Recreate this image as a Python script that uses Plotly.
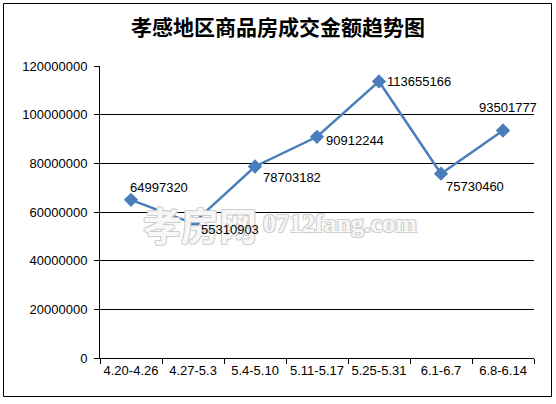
import plotly.graph_objects as go

categories = ["4.20-4.26", "4.27-5.3", "5.4-5.10", "5.11-5.17", "5.25-5.31", "6.1-6.7", "6.8-6.14"]
amounts = [64997320, 55310903, 78703182, 90912244, 113655166, 75730460, 93501777]
y_ticks = [0, 20000000, 40000000, 60000000, 80000000, 100000000, 120000000]

# label offsets (pixels) relative to each point
label_dx = [-3, 6, 6, 7, 6, 3, -26]
label_dy = [12, -6, -11, -4, 0, -13, 23]

W, H = 556, 404
L, R, T, B = 100, 22, 66, 46
pw, ph = W - L - R, H - T - B

def px(x):
    return (x - L) / pw

def py(y):
    return (H - B - y) / ph

fig = go.Figure()
fig.add_trace(go.Scatter(
    x=categories, y=amounts, mode="lines+markers",
    line=dict(color="#4A7EBB", width=2.5),
    marker=dict(symbol="diamond", size=11, color="#4A7EBB"),
    hoverinfo="skip", showlegend=False,
))

tick_font = dict(family="Liberation Sans, Arial", size=13, color="#000000")

# watermark (drawn first so data labels sit on top)
outline = "-1px -1px 0 #cccccc, 1px -1px 0 #cccccc, -1px 1px 0 #cccccc, 1px 1px 0 #cccccc"
fig.add_annotation(xref="paper", yref="paper", x=px(200), y=py(223), text="<b>孝房网</b>",
                   showarrow=False, xanchor="center", yanchor="middle",
                   font=dict(family="Noto Sans CJK SC", size=38, color="rgba(255,255,255,0.85)", shadow=outline))
fig.add_annotation(xref="paper", yref="paper", x=px(340), y=py(224), text="<b>0712fang.com</b>",
                   showarrow=False, xanchor="center", yanchor="middle",
                   font=dict(family="Liberation Serif", size=26, color="rgba(255,255,255,0.85)", shadow=outline))

for c, v, dx, dy in zip(categories, amounts, label_dx, label_dy):
    fig.add_annotation(x=c, y=v, text=str(v), showarrow=False,
                       xanchor="left", yanchor="middle", xshift=dx, yshift=dy,
                       font=tick_font)

# outer chart border
fig.add_shape(type="rect", xref="paper", yref="paper",
              x0=px(3.5), x1=px(551.5), y0=py(396.5), y1=py(3.5),
              line=dict(color="#000000", width=1), fillcolor="rgba(0,0,0,0)", layer="below")

fig.update_layout(
    width=W, height=H,
    margin=dict(l=L, r=R, t=T, b=B, pad=0),
    paper_bgcolor="white", plot_bgcolor="white",
    title=dict(text="<b>孝感地区商品房成交金额趋势图</b>", x=0.5, xref="container", xanchor="center",
               y=1 - 28 / H, yanchor="middle",
               font=dict(family="Noto Sans CJK SC", size=21, color="#000000")),
    xaxis=dict(type="category", range=[-0.5, len(categories) - 0.5],
               showline=True, linecolor="#000000", linewidth=1,
               ticks="outside", ticklen=5, tickcolor="#000000", tickson="boundaries",
               showgrid=False, tickangle=0, tickfont=tick_font, zeroline=False),
    yaxis=dict(range=[0, 120000000], tickvals=y_ticks, ticktext=[str(t) for t in y_ticks],
               showline=True, linecolor="#000000", linewidth=1,
               ticks="outside", ticklen=5, tickcolor="#000000", ticklabelstandoff=4,
               showgrid=True, gridcolor="#000000", gridwidth=1,
               zeroline=False, tickfont=tick_font),
)

fig.write_html("out.html", config={"displayModeBar": False},
               post_script="document.body.style.margin='0';document.body.style.overflow='hidden';")
